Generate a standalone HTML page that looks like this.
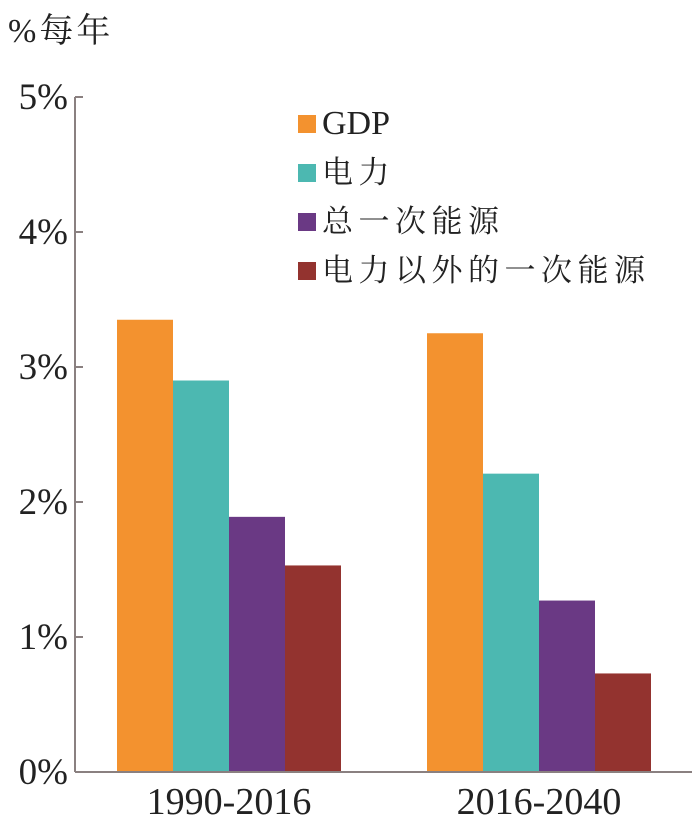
<!DOCTYPE html>
<html><head><meta charset="utf-8"><style>
body{margin:0;background:#fff}
svg text{font-family:"Liberation Serif","Noto Serif CJK SC",serif;fill:#222}
</style></head><body>
<svg width="700" height="826">
<g id="plot"></g>
</svg>
<script>
const groups=["1990-2016","2016-2040"];
const seriesNames=["GDP","电力","总一次能源","电力以外的一次能源"];
const gdp=[3.35,3.25];
const power=[2.9,2.21];
const primary=[1.89,1.27];
const nonPower=[1.53,0.73];
const yTicks=[0,1,2,3,4,5];
const yTickLabels=["0%","1%","2%","3%","4%","5%"];
const colors=["#f3922f","#4cb8b1","#6a3984","#93332f"];
const series=[gdp,power,primary,nonPower];
const NS="http://www.w3.org/2000/svg";
const g=document.getElementById('plot');
const y0=772,pxPer=135,axisX=75;
function y(v){return y0-v*pxPer;}
const groupStart=[117,427],barW=56;
function mk(tag,at){const e=document.createElementNS(NS,tag);for(const k in at)e.setAttribute(k,at[k]);g.appendChild(e);return e;}
series.forEach((s,si)=>{s.forEach((v,gi)=>{
 const r=mk('rect',{x:groupStart[gi]+si*barW,y:y(v),width:barW,height:y0-y(v),fill:colors[si]});
 
 
});});
let a=mk('line',{x1:axisX,y1:y(5),x2:axisX,y2:y0,stroke:'#8a8080','stroke-width':2});

a=mk('line',{x1:axisX,y1:y0,x2:692,y2:y0,stroke:'#8a8080','stroke-width':2});

yTicks.forEach((t,i)=>{
 const l=mk('line',{x1:axisX,y1:y(t),x2:axisX+8,y2:y(t),stroke:'#8a8080','stroke-width':2});
 
 const tx=mk('text',{x:68,y:y(t)+12,'text-anchor':'end','font-size':37});
 tx.textContent=yTickLabels[i];
 
});
groups.forEach((gn,gi)=>{
 const tx=mk('text',{x:groupStart[gi]+2*barW,y:814,'text-anchor':'middle','font-size':38});
 tx.textContent=gn;
 
});
const t=mk('text',{x:8,y:42,'font-size':34,'letter-spacing':3});t.textContent='%每年';

seriesNames.forEach((n,i)=>{
 const yy=115+i*49;
 const r=mk('rect',{x:298,y:yy,width:18,height:18,fill:colors[i]});
 
 const tx=mk('text',{x:322,y:yy+19,'font-size':i==0?34:31,'letter-spacing':i==0?0:5.5});tx.textContent=n;
 
});
</script>
</body></html>
